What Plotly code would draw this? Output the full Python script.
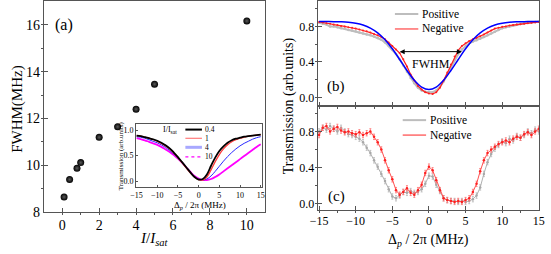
import plotly.graph_objects as go

W, H = 551, 254
FONT = "Liberation Serif"


def PX(x):
    return x / W


def PY(y):
    return 1 - y / H


# ---------------- data ----------------
# panel (a): FWHM vs saturation parameter
intensity = [0.1, 0.4, 0.8, 1.0, 2.0, 3.0, 4.0, 5.0, 10.0]
fwhm_mhz = [8.65, 9.40, 9.88, 10.12, 11.20, 11.65, 12.40, 13.47, 16.17]

# inset: transmission for different I/Isat
inset_detuning = [-15, -14, -13, -12, -11, -10, -9, -8, -7, -6, -5, -4, -3, -2, -1, 0,
                  1, 2, 3, 4, 5, 6, 7, 8, 9, 10, 11, 12, 13, 14, 15]
inset_I04 = [0.89, 0.88, 0.86, 0.84, 0.82, 0.79, 0.75, 0.70, 0.64, 0.56, 0.47, 0.37, 0.27, 0.17, 0.08, 0.03,
             0.04, 0.13, 0.30, 0.46, 0.59, 0.68, 0.75, 0.80, 0.83, 0.85, 0.87, 0.88, 0.89, 0.90, 0.91]
inset_I1 = [0.89, 0.88, 0.86, 0.84, 0.81, 0.78, 0.74, 0.69, 0.63, 0.55, 0.46, 0.36, 0.26, 0.16, 0.08, 0.03,
            0.02, 0.08, 0.22, 0.38, 0.52, 0.63, 0.71, 0.77, 0.81, 0.84, 0.86, 0.88, 0.89, 0.90, 0.91]
inset_I4 = [0.87, 0.86, 0.84, 0.81, 0.78, 0.75, 0.71, 0.66, 0.60, 0.53, 0.45, 0.36, 0.26, 0.17, 0.09, 0.04,
            0.02, 0.04, 0.10, 0.19, 0.29, 0.39, 0.48, 0.56, 0.63, 0.69, 0.74, 0.78, 0.82, 0.85, 0.87]
inset_I10 = [0.84, 0.82, 0.80, 0.77, 0.74, 0.71, 0.67, 0.62, 0.57, 0.51, 0.44, 0.36, 0.27, 0.18, 0.10, 0.05,
             0.02, 0.02, 0.04, 0.08, 0.13, 0.19, 0.25, 0.31, 0.37, 0.43, 0.49, 0.55, 0.61, 0.67, 0.72]
inset_labels = ["0.4", "1", "4", "10"]

# panels (b) and (c): probe detuning grid (MHz)
detuning = [i * 0.5 for i in range(-30, 31)]

b_positive = [0.84, 0.83, 0.82, 0.80, 0.80, 0.79, 0.78, 0.775, 0.76, 0.755,
              0.745, 0.73, 0.72, 0.71, 0.70, 0.685, 0.67, 0.65, 0.62, 0.58,
              0.54, 0.49, 0.43, 0.36, 0.29, 0.22, 0.16, 0.11, 0.08, 0.065,
              0.06,
              0.06, 0.08, 0.12, 0.18, 0.26, 0.34, 0.42, 0.49, 0.54, 0.58,
              0.61, 0.63, 0.645, 0.66, 0.68, 0.70, 0.72, 0.74, 0.76, 0.78,
              0.79, 0.80, 0.81, 0.82, 0.83, 0.835, 0.84, 0.845, 0.85, 0.855]
b_negative = [0.85, 0.845, 0.835, 0.83, 0.82, 0.815, 0.805, 0.80, 0.79, 0.785,
              0.775, 0.765, 0.755, 0.745, 0.73, 0.715, 0.70, 0.68, 0.655, 0.62,
              0.58, 0.54, 0.50, 0.43, 0.35, 0.26, 0.19, 0.13, 0.09, 0.06,
              0.045,
              0.04, 0.06, 0.11, 0.19, 0.28, 0.37, 0.46, 0.53, 0.58, 0.61,
              0.635, 0.655, 0.67, 0.69, 0.71, 0.73, 0.755, 0.775, 0.785, 0.795,
              0.80, 0.81, 0.815, 0.82, 0.825, 0.83, 0.835, 0.84, 0.845, 0.85]
fit_detuning = [-15, -14, -13, -12, -11, -10, -9, -8, -7, -6, -5, -4, -3, -2, -1, 0,
                1, 2, 3, 4, 5, 6, 7, 8, 9, 10, 11, 12, 13, 14, 15]
b_fit = [0.855, 0.854, 0.853, 0.851, 0.846, 0.835, 0.815, 0.781, 0.727, 0.649, 0.548, 0.428, 0.304, 0.194, 0.118,
         0.090,
         0.118, 0.194, 0.304, 0.428, 0.548, 0.649, 0.727, 0.781, 0.815, 0.835, 0.846, 0.851, 0.853, 0.854, 0.855]

c_positive = [0.80, 0.84, 0.82, 0.86, 0.83, 0.80, 0.84, 0.80, 0.77, 0.76,
              0.74, 0.72, 0.68, 0.62, 0.56, 0.48, 0.41, 0.33, 0.25, 0.16,
              0.08, 0.06, 0.09, 0.13, 0.12, 0.14, 0.12, 0.13, 0.16, 0.22,
              0.31,
              0.30, 0.21, 0.14, 0.06, 0.04, 0.03, 0.03, 0.02, 0.03, 0.02,
              0.03, 0.05, 0.09, 0.18, 0.33, 0.46, 0.55, 0.61, 0.65, 0.69,
              0.67, 0.72, 0.70, 0.75, 0.73, 0.76, 0.80, 0.78, 0.82, 0.80]
c_negative = [0.76, 0.84, 0.86, 0.80, 0.83, 0.85, 0.81, 0.79, 0.80, 0.78,
              0.77, 0.79, 0.76, 0.78, 0.80, 0.74, 0.68, 0.60, 0.48, 0.37,
              0.27, 0.15, 0.10, 0.13, 0.17, 0.12, 0.10, 0.15, 0.21, 0.34,
              0.41,
              0.37, 0.26, 0.15, 0.06, 0.04, 0.03, 0.02, 0.03, 0.02, 0.04,
              0.06, 0.13, 0.22, 0.36, 0.48, 0.56, 0.60, 0.63, 0.66, 0.68,
              0.70, 0.68, 0.72, 0.74, 0.73, 0.77, 0.79, 0.76, 0.80, 0.83]
c_error = 0.03

GREY = "#bdbdbd"
RED = "#ff2020"
BLUE = "#0000ff"

# ---------------- traces ----------------
fig = go.Figure()

fig.add_trace(go.Scatter(
    x=intensity, y=fwhm_mhz, mode="markers", xaxis="x", yaxis="y",
    marker=dict(size=7, color="black", line=dict(width=0),
                gradient=dict(type="radial", color="#5a5a5a")),
    showlegend=False))

for yy, col, wd in [(inset_I10, "#ff00ff", 1.8), (inset_I4, "#2a2aff", 1.0),
                    (inset_I1, "#ff3a3a", 1.3), (inset_I04, "black", 1.8)]:
    fig.add_trace(go.Scatter(x=inset_detuning, y=yy, mode="lines", xaxis="x2", yaxis="y2",
                             line=dict(color=col, width=wd, shape="spline"), showlegend=False))

fig.add_trace(go.Scatter(x=detuning, y=b_positive, mode="lines+markers", xaxis="x3", yaxis="y3",
                         line=dict(color=GREY, width=2), marker=dict(size=2.5, color=GREY),
                         name="Positive", showlegend=False))
fig.add_trace(go.Scatter(x=detuning, y=b_negative, mode="lines+markers", xaxis="x3", yaxis="y3",
                         line=dict(color=RED, width=1.2), marker=dict(size=2, color=RED),
                         name="Negative", showlegend=False))
fig.add_trace(go.Scatter(x=fit_detuning, y=b_fit, mode="lines", xaxis="x3", yaxis="y3",
                         line=dict(color=BLUE, width=1.5, shape="spline"), showlegend=False))

fig.add_trace(go.Scatter(x=detuning, y=c_positive, mode="lines+markers", xaxis="x4", yaxis="y4",
                         line=dict(color="#b0b0b0", width=1), marker=dict(size=2.5, color="#a8a8a8"),
                         error_y=dict(type="constant", value=c_error, color="#b8b8b8", thickness=0.8, width=1),
                         name="Positive", showlegend=False))
fig.add_trace(go.Scatter(x=detuning, y=c_negative, mode="lines+markers", xaxis="x4", yaxis="y4",
                         line=dict(color="#ff5050", width=1), marker=dict(size=2.5, color=RED),
                         error_y=dict(type="constant", value=c_error, color="#ff7070", thickness=0.8, width=1),
                         name="Negative", showlegend=False))

# ---------------- axes ----------------
AXC = "#555555"


def ax(**kw):
    base = dict(showline=True, linecolor=AXC, linewidth=1, mirror=True, ticks="inside",
                ticklen=4, tickcolor=AXC, showgrid=False, zeroline=False,
                tickfont=dict(family=FONT, size=12, color="black"))
    base.update(kw)
    return base


fig.update_layout(
    width=W, height=H, margin=dict(l=0, r=0, t=0, b=0),
    paper_bgcolor="white", plot_bgcolor="white",
    font=dict(family=FONT, color="black"),
    showlegend=False,
    xaxis=ax(domain=[PX(36.7), PX(264)], range=[-1, 11], dtick=2, anchor="y",
             minor=dict(dtick=1, ticklen=2, tickcolor=AXC),
             tickfont=dict(family=FONT, size=14, color="black")),
    yaxis=ax(domain=[PY(219), 0.998], range=[8, 17], dtick=2, anchor="x",
             minor=dict(dtick=1, ticklen=2, tickcolor=AXC),
             tickfont=dict(family=FONT, size=14, color="black")),
    xaxis2=ax(domain=[PX(131.5), PX(261)], range=[-15.1, 15.4], dtick=5, anchor="y2",
              ticklen=2, tickfont=dict(family=FONT, size=8, color="black")),
    yaxis2=ax(domain=[PY(193), PY(128)], range=[-0.12, 1.11], dtick=0.5, tickformat=".1f",
              anchor="x2", ticklen=2, tickfont=dict(family=FONT, size=8, color="black")),
    xaxis3=ax(domain=[PX(317.7), PX(545)], range=[-15.2, 15.05], dtick=5, anchor="y3",
              showticklabels=False, minor=dict(dtick=2.5, ticklen=2, tickcolor=AXC)),
    yaxis3=ax(domain=[PY(109), 0.998], range=[-0.097, 1.08], dtick=0.4, tickformat=".1f",
              anchor="x3", minor=dict(dtick=0.2, ticklen=2, tickcolor=AXC)),
    xaxis4=ax(domain=[PX(317.7), PX(545)], range=[-15.2, 15.05], dtick=5, anchor="y4",
              minor=dict(dtick=2.5, ticklen=2, tickcolor=AXC)),
    yaxis4=ax(domain=[PY(216.7), PY(109)], range=[-0.07, 1.08], dtick=0.4, tickformat=".1f",
              anchor="x4", minor=dict(dtick=0.2, ticklen=2, tickcolor=AXC)),
)

# ---------------- text ----------------
ann = []


def text(x, y, s, size, angle=0, xanchor="center", ref=("paper", "paper")):
    ann.append(dict(x=x, y=y, xref=ref[0], yref=ref[1], text=s, showarrow=False,
                    textangle=angle, xanchor=xanchor, yanchor="middle", borderpad=0,
                    font=dict(family=FONT, size=size, color="black")))


text(PX(57), PY(25), "(a)", 16)
text(PX(9), PY(112), "FWHM(MHz)", 15, -90)
text(PX(150), PY(247), "<i>I</i>/<i>I</i><sub><i>sat</i></sub>", 15)
text(PX(116), PY(161), "Transmission (arb.units)", 7, -90)
text(PX(197), PY(212), "Δ<sub><i>p</i></sub> / 2π (MHz)", 9)
text(PX(166), PY(134), "I/I<sub>sat</sub>", 8)
for lab, yy in zip(inset_labels, [133.3, 142.3, 151.7, 161.7]):
    text(PX(201), PY(yy), lab, 7.5, xanchor="left")
text(PX(288), PY(108.5), "Transmission (arb.units)", 14, -90)
text(PX(431), PY(248), "Δ<sub><i>p</i></sub> / 2π (MHz)", 14)
text(PX(337), PY(89), "(b)", 15)
text(PX(337), PY(203), "(c)", 15)
text(PX(434), PY(65), "FWHM", 12)
text(PX(424), PY(13.5), "Positive", 11.5, xanchor="left")
text(PX(424), PY(29), "Negative", 11.5, xanchor="left")
text(PX(432), PY(123.5), "Positive", 11.5, xanchor="left")
text(PX(432), PY(139), "Negative", 11.5, xanchor="left")

# FWHM double arrow
ann.append(dict(x=4.5, y=0.516, ax=-4.2, ay=0.516, xref="x3", yref="y3", axref="x3", ayref="y3",
                text="", showarrow=True, arrowhead=2, startarrowhead=2, arrowside="end+start",
                arrowsize=1, arrowwidth=1, arrowcolor="black"))

fig.update_layout(annotations=ann)

# legend keys
shapes = []


def key(x0, x1, y, color, width, dash="solid", opacity=1.0):
    shapes.append(dict(type="line", xref="paper", yref="paper", x0=PX(x0), x1=PX(x1),
                       y0=PY(y), y1=PY(y), opacity=opacity,
                       line=dict(color=color, width=width, dash=dash)))


key(182, 199, 133.3, "black", 2)
key(182, 199, 142.3, "#ff6060", 1)
key(182, 199, 151.7, "#7070ff", 3, opacity=0.6)
key(182, 199, 161.7, "#ff00ff", 1.2, dash="dot")
key(397, 421, 13.5, GREY, 2)
key(397, 421, 29, RED, 1)
key(405, 429, 123.5, GREY, 2)
key(405, 429, 139, RED, 1)
fig.update_layout(shapes=shapes)

fig.write_html("out.html", config={"displayModeBar": False, "staticPlot": True},
               post_script="document.body.style.margin='0';document.body.style.overflow='hidden';")
